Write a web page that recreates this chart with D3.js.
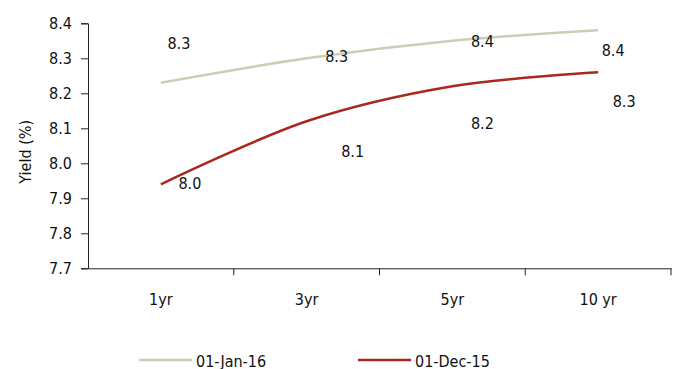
<!DOCTYPE html>
<html>
<head>
<meta charset="utf-8">
<script src="https://cdn.jsdelivr.net/npm/d3@7"></script>
<style>
  body { margin: 0; background: #fff; }
  svg text { font-family: "DejaVu Sans Condensed", "DejaVu Sans", sans-serif; font-stretch: condensed; fill: #111; }
</style>
</head>
<body>
<div id="chart"></div>
<script>
// data
const categories = ['1yr', '3yr', '5yr', '10 yr'];
const jan16 = [8.23, 8.30, 8.35, 8.38];
const dec15 = [7.94, 8.12, 8.22, 8.26];
const jan16Labels = ['8.3', '8.3', '8.4', '8.4'];
const dec15Labels = ['8.0', '8.1', '8.2', '8.3'];
const yTicks = [7.7, 7.8, 7.9, 8.0, 8.1, 8.2, 8.3, 8.4];

// label nudges (pixels) - labels were dragged around in the original
const janOff = [[18, -39], [30, -2], [30, 1], [15, 20]];
const decOff = [[29, -1], [46, 30], [30, 37], [26, 29]];

const width = 678, height = 369;
const plotL = 88, plotR = 671, plotT = 23.3, plotB = 268.3;
const fs = 16;

const svg = d3.select('#chart').append('svg')
  .attr('width', width)
  .attr('height', height);

const x = d3.scaleBand().domain(categories).range([plotL, plotR]);
const y = d3.scaleLinear().domain([7.7, 8.4]).range([plotB, plotT]);

// y axis
const yAxis = svg.append('g')
  .attr('transform', `translate(${plotL},0)`)
  .call(d3.axisLeft(y).tickValues(yTicks).tickFormat(d3.format('.1f')).tickSize(7).tickPadding(9));
yAxis.select('.domain').attr('stroke', '#222');
yAxis.selectAll('.tick line').attr('stroke', '#222');
yAxis.selectAll('text').attr('font-size', fs).attr('font-family', null);

// x axis
const xAxis = svg.append('g')
  .attr('transform', `translate(0,${plotB})`)
  .call(d3.axisBottom(x).tickSize(0).tickPadding(25));
xAxis.select('.domain').attr('stroke', '#222');
xAxis.selectAll('text').attr('font-size', fs).attr('font-family', null);
// tick marks on band edges
xAxis.selectAll('line.edge')
  .data(categories.map(c => x(c) + x.bandwidth()))
  .enter().append('line')
  .attr('class', 'edge')
  .attr('x1', d => d).attr('x2', d => d)
  .attr('y1', 0).attr('y2', 7)
  .attr('stroke', '#222');

svg.append('text')
  .attr('transform', `translate(25,${(plotT + plotB) / 2 + 6}) rotate(-90)`)
  .attr('text-anchor', 'middle')
  .attr('dominant-baseline', 'central')
  .attr('font-size', fs)
  .text('Yield (%)');

const cx = i => x(categories[i]) + x.bandwidth() / 2;
const line = d3.line()
  .x((d, i) => cx(i))
  .y(d => y(d))
  .curve(d3.curveCardinal);

const series = [
  { name: '01-Jan-16', values: jan16, labels: jan16Labels, off: janOff, color: '#cfcbb9' },
  { name: '01-Dec-15', values: dec15, labels: dec15Labels, off: decOff, color: '#a8271f' }
];

series.forEach(s => {
  svg.append('path')
    .datum(s.values)
    .attr('fill', 'none')
    .attr('stroke', s.color)
    .attr('stroke-width', 2.5)
    .attr('d', line);

  svg.selectAll(null)
    .data(s.values)
    .enter().append('text')
    .attr('x', (d, i) => cx(i) + s.off[i][0])
    .attr('y', (d, i) => y(d) + s.off[i][1])
    .attr('text-anchor', 'middle')
    .attr('dominant-baseline', 'central')
    .attr('font-size', fs)
    .text((d, i) => s.labels[i]);
});

// legend
const legendX = [139, 358];
const lg = svg.append('g');
series.forEach((s, i) => {
  lg.append('line')
    .attr('x1', legendX[i]).attr('x2', legendX[i] + 53)
    .attr('y1', 360).attr('y2', 360)
    .attr('stroke', s.color)
    .attr('stroke-width', 2.5);
  lg.append('text')
    .attr('x', legendX[i] + 57)
    .attr('y', 361)
    .attr('dominant-baseline', 'central')
    .attr('font-size', fs)
    .text(s.name);
});
</script>
</body>
</html>
